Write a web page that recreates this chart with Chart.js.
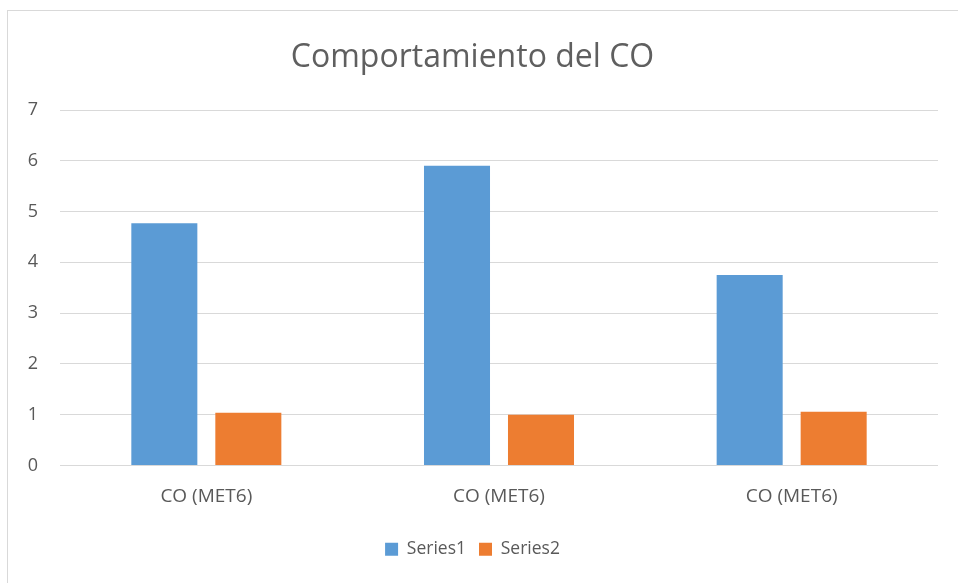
<!DOCTYPE html>
<html>
<head>
<meta charset="utf-8">
<script src="https://cdn.jsdelivr.net/npm/chart.js@4/dist/chart.umd.min.js"></script>
<style>
  html, body { margin: 0; padding: 0; background: #ffffff; overflow: hidden; }
  #frame { position: absolute; left: 7px; top: 10px; width: 1000px; height: 620px; border: 1px solid #d9d9d9; box-sizing: border-box; }
  #wrap { position: absolute; left: 0; top: 0; width: 958px; height: 583px; }
</style>
</head>
<body>
<div id="frame"></div>
<div id="wrap"><canvas id="c" width="958" height="583"></canvas></div>
<script>
const categories = ["CO (MET6)", "CO (MET6)", "CO (MET6)"];
const series1 = [4.77, 5.90, 3.75];
const series2 = [1.04, 1.00, 1.06];
const yTicks = [0, 1, 2, 3, 4, 5, 6, 7];

const textColor = "#595959";
const fontFamily = "'Open Sans', 'Liberation Sans', sans-serif";

new Chart(document.getElementById("c"), {
  type: "bar",
  data: {
    labels: categories,
    datasets: [
      { label: "Series1", data: series1, backgroundColor: "#5b9bd5",
        categoryPercentage: 0.574, barPercentage: 0.786 },
      { label: "Series2", data: series2, backgroundColor: "#ed7d31",
        categoryPercentage: 0.574, barPercentage: 0.786 }
    ]
  },
  options: {
    responsive: false,
    animation: false,
    devicePixelRatio: 1,
    layout: { padding: { left: 7, right: 20, top: 0, bottom: 15 } },
    plugins: {
      title: {
        display: true,
        text: "Comportamiento del CO",
        color: "#5f5f5f",
        font: { family: fontFamily, size: 32, weight: "normal" },
        padding: { top: 39, bottom: 32.6 }
      },
      legend: {
        position: "bottom",
        labels: {
          color: textColor,
          font: { family: fontFamily, size: 17.5 },
          boxWidth: 13,
          boxHeight: 13,
          padding: 13
        }
      },
      tooltip: { enabled: false }
    },
    scales: {
      x: {
        grid: { display: false, drawTicks: false },
        border: { display: false },
        ticks: { color: textColor, font: { family: fontFamily, size: 19 }, padding: 19.6 }
      },
      y: {
        min: 0,
        max: 7,
        afterFit: (scale) => { scale.width = 53; },
        afterBuildTicks: (scale) => { scale.ticks = yTicks.map(v => ({ value: v })); },
        grid: { color: "#d9d9d9", lineWidth: 1, drawTicks: false },
        border: { display: false },
        ticks: { color: textColor, font: { family: fontFamily, size: 18 }, padding: 22 }
      }
    }
  }
});
</script>
</body>
</html>
